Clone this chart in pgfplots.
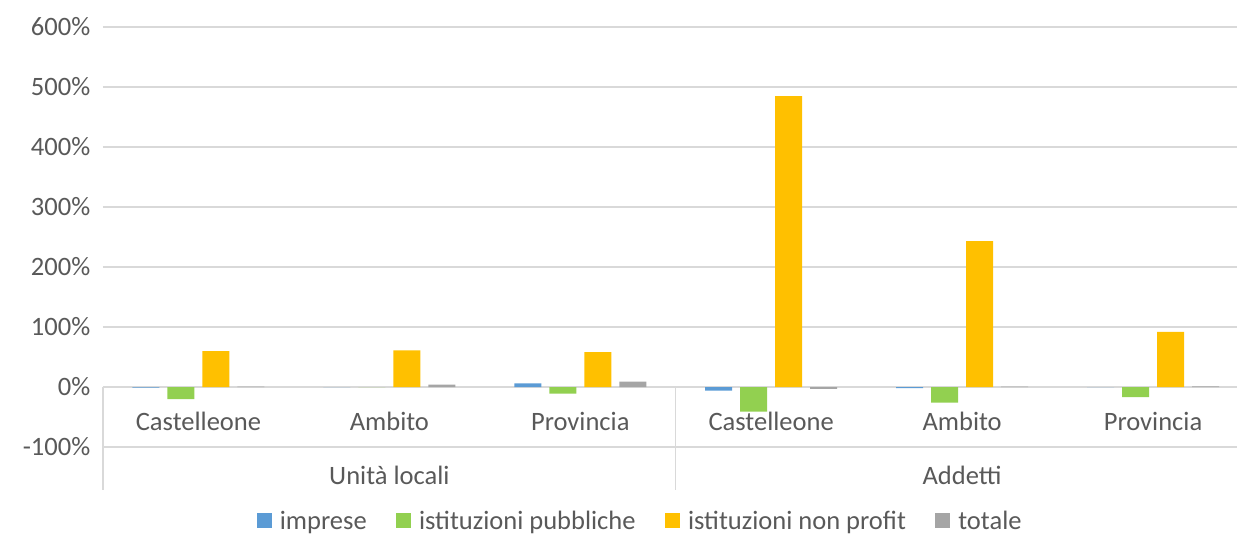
\documentclass[border=0pt]{standalone}
\usepackage{fontspec}
\setmainfont{Carlito}
\usepackage{pgfplots}
\usepackage{pgfplotstable}
\pgfplotsset{compat=1.18}
\definecolor{BarBlue}{HTML}{5B9BD5}
\definecolor{BarGreen}{HTML}{92D050}
\definecolor{BarGold}{HTML}{FFC000}
\definecolor{BarGray}{HTML}{A5A5A5}
\definecolor{TxtGray}{HTML}{595959}
\definecolor{GridGray}{HTML}{D9D9D9}

% categories: 0-2 Unita locali (Castelleone, Ambito, Provincia), 3-5 Addetti
\pgfplotstableread{
x imprese pubbliche nonprofit totale
0 -1  -20  60   0.5
1  0    0  61   4
2  6  -11  58   9
3 -6  -41 485  -3
4 -2  -26 243   0.5
5  0  -17  92   1
}\datatable

\newcommand{\lbl}{\fontsize{19.9}{22}\selectfont}

\begin{document}
\begin{tikzpicture}
\begin{axis}[
  scale only axis,
  width=850.5pt, height=315pt,
  xmin=-0.5, xmax=5.44,
  ymin=-100, ymax=600,
  ytick={-100,0,100,200,300,400,500,600},
  xtick=\empty,
  ybar=6pt, bar width=20.25pt,
  axis line style={draw=none},
  major tick length=0pt,
  ymajorgrids, grid style={GridGray,line width=0.9pt},
  /pgf/number format/assume math mode=true,
  yticklabel={\pgfmathprintnumber{\tick}\%},
  yticklabel style={font=\lbl,color=TxtGray,xshift=-6pt},
  clip=false,
  legend columns=4,
  legend style={draw=none,fill=none,font=\lbl,text=TxtGray,
    at={(0.474,-0.176)},anchor=center,
    /tikz/every odd column/.append style={column sep=4pt},
    /tikz/every even column/.append style={column sep=20pt}},
  legend cell align=left,
  legend image code/.code={\fill[#1,draw=none] (0pt,-5.6pt) rectangle (11.25pt,6pt);},
]
\addplot[fill=BarBlue,draw=none] table[x=x,y=imprese]{\datatable};
\addlegendentry{imprese}
\addplot[fill=BarGreen,draw=none] table[x=x,y=pubbliche]{\datatable};
\addlegendentry{istituzioni pubbliche}
\addplot[fill=BarGold,draw=none] table[x=x,y=nonprofit]{\datatable};
\addlegendentry{istituzioni non profit}
\addplot[fill=BarGray,draw=none] table[x=x,y=totale]{\datatable};
\addlegendentry{totale}

% category separators
\draw[GridGray,line width=0.9pt] (axis cs:-0.5,0) -- (axis cs:-0.5,-172);
\draw[GridGray,line width=0.9pt] (axis cs:2.5,0) -- (axis cs:2.5,-172);

% category labels
\node[font=\lbl,text=TxtGray] at (axis cs:0,-56.7) {Castelleone};
\node[font=\lbl,text=TxtGray] at (axis cs:1,-56.7) {Ambito};
\node[font=\lbl,text=TxtGray] at (axis cs:2,-56.7) {Provincia};
\node[font=\lbl,text=TxtGray] at (axis cs:3,-56.7) {Castelleone};
\node[font=\lbl,text=TxtGray] at (axis cs:4,-56.7) {Ambito};
\node[font=\lbl,text=TxtGray] at (axis cs:5,-56.7) {Provincia};
\node[font=\lbl,text=TxtGray] at (axis cs:1,-146.7) {Unità locali};
\node[font=\lbl,text=TxtGray] at (axis cs:4,-146.7) {Addetti};
\end{axis}
\pgfresetboundingbox
\useasboundingbox (-77.25pt,-66.75pt) rectangle (850.5pt,335.25pt);
\end{tikzpicture}
\end{document}
